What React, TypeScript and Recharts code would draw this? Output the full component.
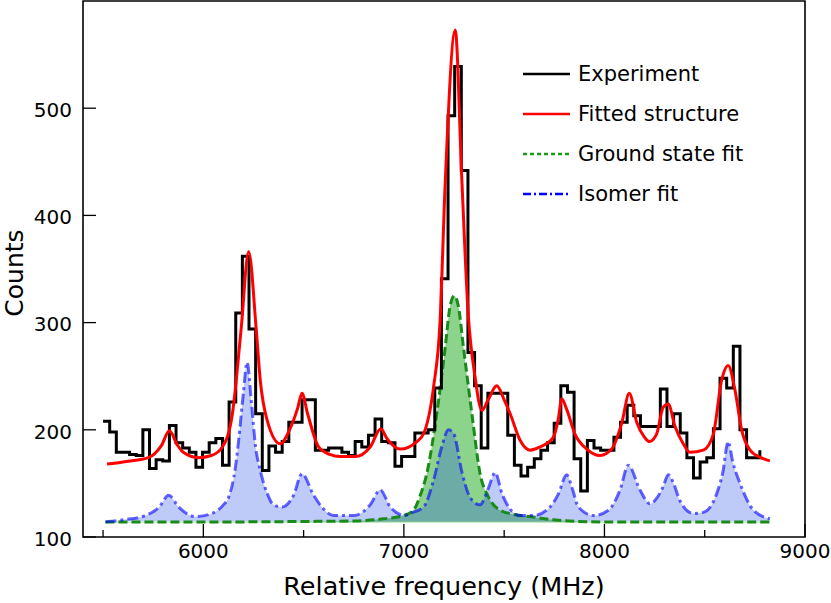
import React from 'react';
import { ComposedChart, Line, Area, XAxis, YAxis, ReferenceArea, Legend } from 'recharts';

// ---------- data ----------
// Experimental histogram: bin start frequency (MHz) and counts
const expStartFreq = 5500;
const expBinWidth = 33.08;
const expCounts = [
  208, 198, 179, 179, 177, 176, 200, 164, 172, 171,
  204, 188, 183, 179, 165, 179, 188, 192, 167, 226,
  309, 362, 294, 215, 162, 185, 179, 189, 207, 207,
  228, 228, 181, 181, 183, 183, 179, 176, 189, 184,
  195, 210, 189, 188, 166, 175, 175, 197, 197, 200,
  239, 341, 493, 539, 442, 272, 241, 183, 234, 234,
  234, 195, 167, 157, 165, 173, 181, 188, 206, 241,
  235, 173, 143, 190, 183, 181, 181, 193, 207, 223,
  213, 203, 203, 203, 238, 203, 215, 197, 174, 155,
  170, 174, 201, 248, 239, 278, 200, 174, 174, 181,
];

// Fitted structure (red)
const fitFreq = [5520, 5600, 5726, 5790, 5831, 5870, 5900, 5975, 6040, 6095, 6145, 6188, 6226, 6264, 6284, 6318, 6383, 6430, 6470, 6492, 6520, 6575, 6630, 6683, 6757, 6832, 6885, 6915, 6981, 7065, 7100, 7148, 7180, 7206, 7256, 7289, 7320, 7355, 7389, 7420, 7463, 7500, 7530, 7580, 7629, 7679, 7745, 7770, 7787, 7810, 7853, 7912, 7978, 8036, 8086, 8124, 8161, 8200, 8224, 8260, 8293, 8318, 8352, 8393, 8427, 8493, 8543, 8584, 8617, 8651, 8684, 8726, 8780, 8825];
const fitCounts = [168, 170, 174, 185, 199, 186, 179, 174, 176, 184, 215, 293, 366, 293, 246, 209, 187, 200, 220, 234, 215, 184, 177, 175, 175, 184, 201, 192, 182, 189, 197, 240, 300, 430, 573, 433, 310, 249, 218, 228, 241, 228, 215, 190, 181, 184, 193, 210, 229, 220, 196, 182, 176, 182, 206, 234, 207, 193, 189, 196, 221, 224, 203, 187, 179, 181, 196, 246, 260, 237, 200, 181, 174, 171];

// Ground state fit (green)
const groundFreq = [5512, 6000, 6500, 6750, 6900, 6998, 7048, 7080, 7114, 7164, 7206, 7230, 7251, 7272, 7297, 7339, 7380, 7420, 7480, 7550, 7629, 7745, 7995, 8400, 8825];
const groundCounts = [114, 114, 114.5, 115, 117, 120, 125, 138, 159, 215, 277, 315, 325, 315, 277, 215, 159, 138, 125, 121, 119, 116, 114, 114, 114];

// Isomer fit (blue)
const isomerFreq = [5512, 5600, 5711, 5780, 5827, 5877, 5960, 6043, 6100, 6126, 6160, 6176, 6200, 6218, 6240, 6260, 6284, 6320, 6350, 6392, 6450, 6492, 6550, 6600, 6650, 6750, 6832, 6882, 6932, 7006, 7031, 7098, 7148, 7190, 7222, 7247, 7290, 7330, 7380, 7420, 7455, 7490, 7530, 7580, 7646, 7729, 7770, 7812, 7840, 7870, 7945, 8020, 8078, 8119, 8177, 8227, 8260, 8293, 8318, 8345, 8376, 8443, 8493, 8559, 8590, 8617, 8640, 8676, 8743, 8825];
const isomerCounts = [114, 116, 120, 128, 139, 128, 119, 122, 130, 137, 165, 190, 235, 263, 225, 185, 162, 140, 130, 128, 139, 159, 139, 126, 120, 120, 130, 144, 128, 120, 122, 128, 153, 185, 200, 197, 160, 137, 130, 145, 160, 140, 126, 120, 120, 128, 140, 158, 145, 128, 120, 125, 144, 167, 144, 131, 136, 147, 158, 150, 134, 122, 123, 140, 160, 189, 170, 150, 125, 117];

const xTicks = [5500, 6000, 6500, 7000, 7500, 8000, 8500, 9000];
const xMajorTicks = [6000, 7000, 8000, 9000];
const yTicks = [100, 200, 300, 400, 500];
const legendLabels = ['Experiment', 'Fitted structure', 'Ground state fit', 'Isomer fit'];

// ---------- derived tables ----------
const expData = expCounts.map((c, i) => ({ x: expStartFreq + i * expBinWidth, y: c }));
const fitData = fitFreq.map((f, i) => ({ x: f, y: fitCounts[i] }));
const groundData = groundFreq.map((f, i) => ({ x: f, y: groundCounts[i] }));
const isomerData = isomerFreq.map((f, i) => ({ x: f, y: isomerCounts[i] }));

// ---------- layout / style ----------
const FONT = "'DejaVu Sans', Verdana, sans-serif";
const W = 831;
const H = 603;
const MARGIN = { top: 1, right: 26, bottom: 0, left: 0 };
const Y_AXIS_W = 83;
const X_AXIS_H = 66;
const PLOT_LEFT = MARGIN.left + Y_AXIS_W;
const PLOT_RIGHT = W - MARGIN.right;
const PLOT_TOP = MARGIN.top;
const PLOT_BOTTOM = H - MARGIN.bottom - X_AXIS_H;

const legendStyles = [
  { color: '#000000', dash: undefined as string | undefined },
  { color: '#ff0000', dash: undefined as string | undefined },
  { color: '#1a9a1a', dash: '4 3' },
  { color: '#0000ff', dash: '8 3 2 3' },
];

const XTick = (props: any) => {
  const { x, y, payload } = props;
  const v = payload.value;
  const major = xMajorTicks.includes(v);
  return (
    <g>
      <line x1={x} x2={x} y1={y} y2={y - (major ? 13 : 7)} stroke="#000" strokeWidth={1.3} />
      {major && (
        <text x={x} y={y + 21} textAnchor="middle" fontSize={20} fontFamily={FONT} fill="#000">
          {v}
        </text>
      )}
    </g>
  );
};

const YTick = (props: any) => {
  const { x, y, payload } = props;
  return (
    <g>
      <line x1={x} x2={x + 13} y1={y} y2={y} stroke="#000" strokeWidth={1.3} />
      <text x={x - 11} y={y} dy="0.44em" textAnchor="end" fontSize={20} fontFamily={FONT} fill="#000">
        {payload.value}
      </text>
    </g>
  );
};

const XLabel = () => (
  <text
    x={(PLOT_LEFT + PLOT_RIGHT) / 2}
    y={PLOT_BOTTOM + 58}
    textAnchor="middle"
    fontSize={25.5}
    fontFamily={FONT}
    fill="#000"
  >
    Relative frequency (MHz)
  </text>
);

const YLabel = () => {
  const cx = 23;
  const cy = (PLOT_TOP + PLOT_BOTTOM) / 2 + 4;
  return (
    <text
      x={cx}
      y={cy}
      transform={`rotate(-90 ${cx} ${cy})`}
      textAnchor="middle"
      fontSize={25}
      fontFamily={FONT}
      fill="#000"
    >
      Counts
    </text>
  );
};

const renderLegend = () => (
  <div style={{ fontFamily: FONT, fontSize: 21, color: '#000', lineHeight: 1 }}>
    {legendLabels.map((label, i) => (
      <div key={label} style={{ display: 'flex', alignItems: 'center', height: 40 }}>
        <svg width={55} height={10} style={{ display: 'block' }}>
          <line
            x1={8}
            x2={55}
            y1={5}
            y2={5}
            stroke={legendStyles[i].color}
            strokeWidth={2.5}
            strokeDasharray={legendStyles[i].dash}
          />
        </svg>
        <span style={{ marginLeft: 8, whiteSpace: 'nowrap' }}>{label}</span>
      </div>
    ))}
  </div>
);

export default function App() {
  return (
    <div style={{ width: W, height: H, background: '#fff' }}>
      <style>{'body{margin:0;background:#fff;}'}</style>
      <ComposedChart width={W} height={H} margin={MARGIN}>
        <XAxis
          dataKey="x"
          type="number"
          domain={[5400, 9000]}
          ticks={xTicks}
          interval={0}
          allowDataOverflow
          height={X_AXIS_H}
          tickSize={0}
          tickMargin={0}
          tickLine={false}
          axisLine={false}
          tick={<XTick />}
          label={{ content: () => <XLabel /> }}
        />
        <YAxis
          type="number"
          domain={[100, 600]}
          ticks={yTicks}
          interval={0}
          allowDataOverflow
          width={Y_AXIS_W}
          tickSize={0}
          tickMargin={0}
          tickLine={false}
          axisLine={false}
          tick={<YTick />}
          label={{ content: () => <YLabel /> }}
        />
        <Area
          data={groundData}
          dataKey="y"
          type="monotone"
          baseValue={113.5}
          stroke="none"
          fill="#22aa22"
          fillOpacity={0.52}
          isAnimationActive={false}
          legendType="none"
        />
        <Area
          data={isomerData}
          dataKey="y"
          type="monotone"
          baseValue={114.5}
          stroke="none"
          fill="#2850e6"
          fillOpacity={0.3}
          isAnimationActive={false}
          legendType="none"
        />
        <Line
          data={groundData}
          dataKey="y"
          type="monotone"
          stroke="#1a8a1a"
          strokeWidth={3}
          strokeDasharray="9 4"
          dot={false}
          activeDot={false}
          isAnimationActive={false}
        />
        <Line
          data={isomerData}
          dataKey="y"
          type="monotone"
          stroke="#0000ff"
          strokeOpacity={0.6}
          strokeWidth={3}
          strokeDasharray="11 4 3 4"
          dot={false}
          activeDot={false}
          isAnimationActive={false}
        />
        <Line
          data={expData}
          dataKey="y"
          type="stepAfter"
          stroke="#000"
          strokeWidth={3}
          dot={false}
          activeDot={false}
          isAnimationActive={false}
        />
        <Line
          data={fitData}
          dataKey="y"
          type="monotone"
          stroke="#ff0000"
          strokeWidth={3}
          dot={false}
          activeDot={false}
          isAnimationActive={false}
        />
        <ReferenceArea
          x1={5400}
          x2={9000}
          y1={100}
          y2={600}
          fill="none"
          stroke="#000"
          strokeWidth={1.6}
          ifOverflow="visible"
        />
        <Legend
          layout="horizontal"
          verticalAlign="middle"
          align="center"
          content={renderLegend}
          wrapperStyle={{ left: 515, top: 54, width: 260, height: 160, bottom: 'auto', right: 'auto' }}
        />
      </ComposedChart>
    </div>
  );
}
